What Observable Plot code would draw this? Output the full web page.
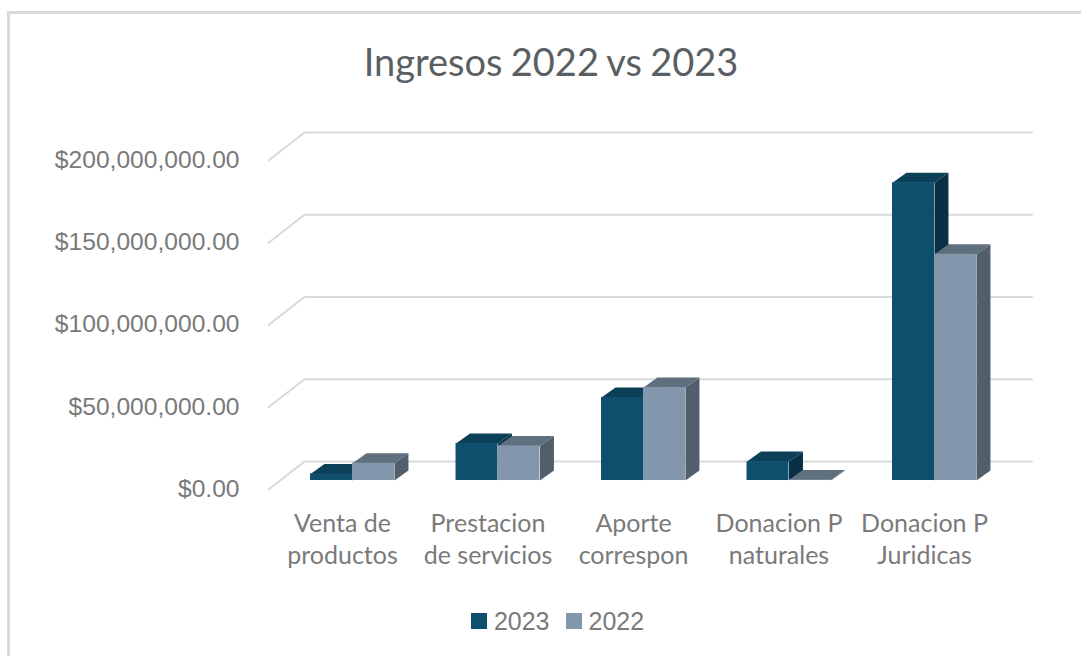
<!DOCTYPE html>
<html lang="es"><head><meta charset="utf-8">
<style>
html,body{margin:0;padding:0;background:#fff;overflow:hidden}
#chart{position:relative;width:1081px;height:656px;overflow:hidden}
#frame{position:absolute;left:7px;top:11px;width:1200px;height:800px;border:3px solid #d9d9d9;box-sizing:border-box}
h1{position:relative;margin:0;height:92px;box-sizing:border-box;padding:31px 0 0 21px;text-align:center;font:400 38px/60px Lato,sans-serif;color:#5a5f63;word-spacing:-1.5px}
#plot{position:relative;height:506px}
#legend{position:relative;display:flex;justify-content:center;align-items:center;gap:7px;padding:3px 0 0 43px;height:40px;font:25px "Liberation Sans",sans-serif;color:#7a7a7a}
#legend i{display:inline-block;width:16px;height:16px}
#legend span{margin-right:9px}
</style>
<script src="https://cdn.jsdelivr.net/npm/d3@7"></script>
<script src="https://cdn.jsdelivr.net/npm/@observablehq/plot@0.6"></script>
</head><body>
<div id="chart"><div id="frame"></div>
<h1>Ingresos 2022 vs 2023</h1>
<div id="plot"></div>
<div id="legend"></div></div>
<script>
const categories = ["Venta de\nproductos","Prestacion\nde servicios","Aporte\ncorrespon","Donacion P\nnaturales","Donacion P\nJuridicas"];
const values2023 = [4e6, 22.5e6, 50.5e6, 11.5e6, 181e6];
const values2022 = [10.5e6, 21e6, 56.5e6, 0.3e6, 137.5e6];
const yTicks = [0, 50e6, 100e6, 150e6, 200e6];
const colors2023 = {front:"#0f4f6e", top:"#0c3f58", side:"#0a3045"};
const colors2022 = {front:"#8397ac", top:"#5f6f7d", side:"#505f6b"};

// 3D projection, expressed in data units (category steps / dollars)
const barW = 0.2885, depthX = 0.096, depthY = 6.1e6;
const wallY = 11.6e6, wallLeft = -0.33, wallRight = 4.67, floorLeft = -0.577, floorY = -5.5e6;

const bars = (vals, x0) => vals.map((v,i)=>({i, v, x1:i+x0, x2:i+x0+barW}));
const topFace = b => [[b.x1,b.v],[b.x2,b.v],[b.x2+depthX,b.v+depthY],[b.x1+depthX,b.v+depthY]].map(([x,y])=>({x,y,i:b.i}));
const sideFace = b => [[b.x2,0],[b.x2,b.v],[b.x2+depthX,b.v+depthY],[b.x2+depthX,depthY]].map(([x,y])=>({x,y,i:b.i}));
const series = (vals,x0,c) => {
  const bs = bars(vals,x0);
  return [
    Plot.line(bs.flatMap(sideFace),{x:"x",y:"y",z:"i",fill:c.side,stroke:"none"}),
    Plot.line(bs.flatMap(topFace),{x:"x",y:"y",z:"i",fill:c.top,stroke:"none"}),
    Plot.rect(bs,{x1:"x1",x2:"x2",y1:0,y2:"v",fill:c.front})
  ];
};
const diag = yTicks.flatMap(v=>[{x:floorLeft,y:v+floorY,v},{x:wallLeft,y:v+wallY,v},{x:wallRight,y:v+wallY,v}]);

const chart = Plot.plot({
  width:1081, height:506,
  marginLeft:240, marginBottom:96, marginTop:0, marginRight:0,
  style:{background:"transparent",overflow:"visible"},
  x:{domain:[0,4],range:[352,934]},
  y:{domain:[0,200e6],range:[388,59]},
  marks:[
    Plot.line(diag,{x:"x",y:"y",z:"v",stroke:"#d9d9d9",strokeWidth:2}),
    ...series(values2023,-barW,colors2023),
    ...series(values2022,0,colors2022),
    Plot.axisY({ticks:yTicks,tickSize:0,tickPadding:1,tickFormat:d3.format("$,.2f"),
      fontSize:24.6,fontFamily:"Liberation Sans",fill:"#7a7a7a",dy:8.5,label:null}),
    Plot.axisX({ticks:[0,1,2,3,4],tickSize:0,tickPadding:7,tickFormat:i=>categories[i],
      fontSize:25,fontFamily:"Lato",fill:"#7a7a7a",lineHeight:1.28,dx:-10,label:null})
  ]
});
document.getElementById("plot").append(chart);
const legend = document.getElementById("legend");
[["2023",colors2023.front],["2022",colors2022.front]].forEach(([t,c])=>{
  const i=document.createElement("i");i.style.background=c;
  const s=document.createElement("span");s.textContent=t;
  legend.append(i,s);
});
</script>
</body></html>
